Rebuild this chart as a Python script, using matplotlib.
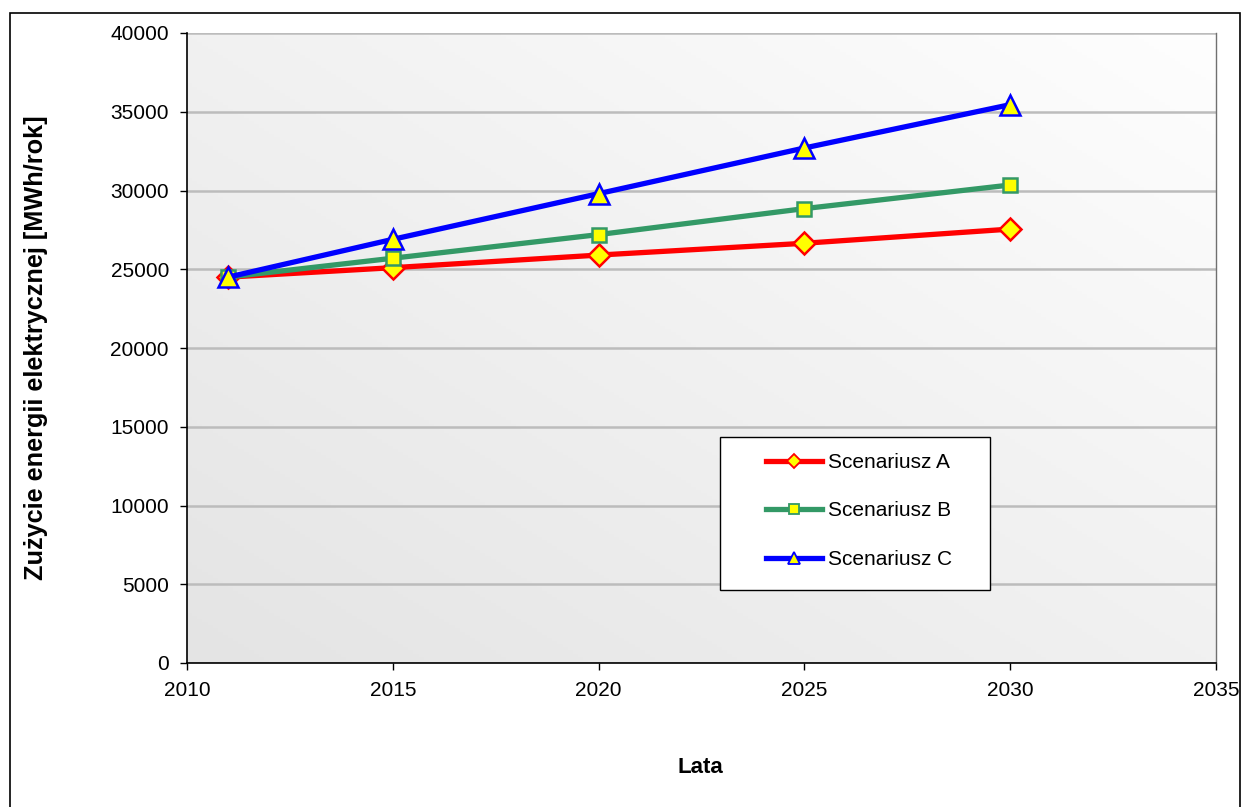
import numpy as np
import matplotlib.pyplot as plt
from matplotlib.patches import Rectangle
from matplotlib.colors import LinearSegmentedColormap

plt.rcParams['font.family'] = ['Liberation Sans', 'DejaVu Sans']

years = [2011, 2015, 2020, 2025, 2030]
scen_a = [24500, 25100, 25900, 26650, 27550]
scen_b = [24500, 25700, 27200, 28850, 30350]
scen_c = [24500, 26900, 29800, 32700, 35450]
labels = ["Scenariusz A", "Scenariusz B", "Scenariusz C"]

fig = plt.figure(figsize=(12.42, 8.07), dpi=100)
ax = fig.add_axes([187 / 1242, 1 - 663 / 807, 1029 / 1242, 630 / 807])

# gradient background (light top-right, darker bottom-left)
gx, gy = np.meshgrid(np.linspace(0, 1, 200), np.linspace(0, 1, 200))
grad = (gx + gy) / 2
bg_cmap = LinearSegmentedColormap.from_list('bg', ['#e4e4e4', '#fefefe'])
ax.imshow(grad, extent=[0, 1, 0, 1], transform=ax.transAxes, origin='lower',
          cmap=bg_cmap, vmin=0, vmax=1, aspect='auto', zorder=0)

styles = [
    dict(color='#ff0000', marker='D', ms=11.5),
    dict(color='#339966', marker='s', ms=10.5),
    dict(color='#0000ff', marker='^', ms=15),
]
for vals, lab, st in zip([scen_a, scen_b, scen_c], labels, styles):
    ax.plot(years, vals, color=st['color'], lw=3.8, marker=st['marker'],
            ms=st['ms'], mfc='#ffff00', mec=st['color'], mew=1.8, label=lab,
            zorder=3, clip_on=False)

ax.set_xlim(2010, 2035)
ax.set_ylim(0, 40000)
ax.set_xticks(range(2010, 2036, 5))
ax.set_yticks(range(0, 40001, 5000))
ax.yaxis.grid(True, color='#bcbcbc', lw=1.8)
ax.set_axisbelow(True)
ax.tick_params(labelsize=15, direction='out', length=5, width=1, pad=8, colors='#000000')
for s in ['left', 'bottom']:
    ax.spines[s].set_linewidth(1.2)
ax.spines['top'].set_visible(False)
ax.spines['right'].set_color('#707070')
ax.spines['right'].set_linewidth(1.0)

ax.set_xlabel("Lata", fontsize=16, fontweight='bold')
ax.set_ylabel("Zużycie energii elektrycznej [MWh/rok]", fontsize=18.2, fontweight='bold')
ax.xaxis.set_label_coords((700 - 187) / 1029, (663 - 757) / 630)
ax.yaxis.set_label_coords((48 - 187) / 1029, 0.5)

# legend box drawn separately, entries centered in it
ax.add_patch(Rectangle(((720 - 187) / 1029, (663 - 590) / 630), 270 / 1029, 153 / 630,
                       transform=ax.transAxes, facecolor='white', edgecolor='black',
                       lw=1.0, zorder=4))
leg = ax.legend(loc='center', bbox_to_anchor=((859 - 187) / 1029, (663 - 511) / 630),
                fontsize=15, frameon=False, handlelength=2.7, labelspacing=1.42,
                markerscale=0.62, handletextpad=0.25, borderpad=0)
leg.set_zorder(5)
for h in leg.legend_handles:
    h.set_markeredgewidth(1.3)

fig.patches.append(Rectangle((10 / 1242, -0.01), 1230 / 1242, 1 - 13 / 807 + 0.01,
                             transform=fig.transFigure, fill=False, ec='black', lw=1.2))

fig.savefig("out.png", dpi=100)
